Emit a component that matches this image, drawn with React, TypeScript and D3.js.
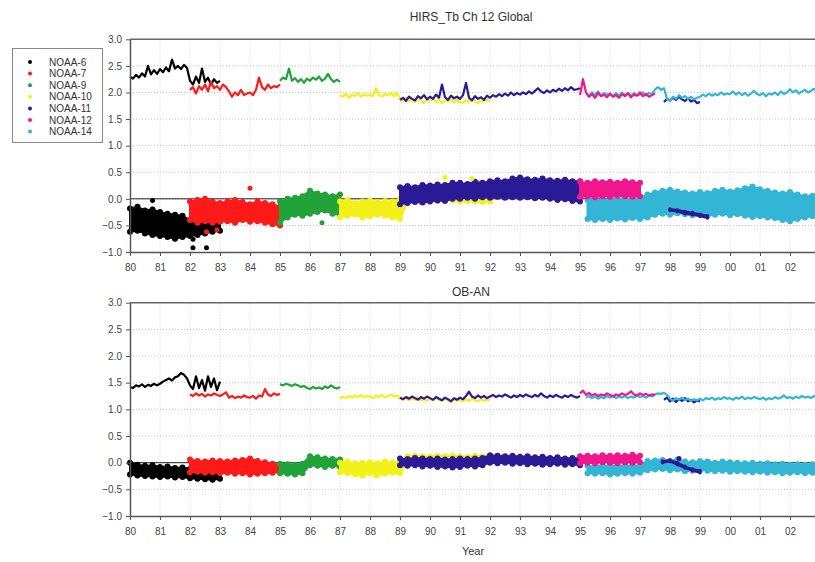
import React, { useEffect, useRef } from "react";
import * as d3 from "d3";

const satellites = ["NOAA-6", "NOAA-7", "NOAA-9", "NOAA-10", "NOAA-11", "NOAA-12", "NOAA-14"];
const satColors = ["#000000", "#ff1a1a", "#22a33a", "#f2f21a", "#2b1a96", "#f0168c", "#33b5d5"];

const yTicks = [-1.0, -0.5, 0.0, 0.5, 1.0, 1.5, 2.0, 2.5, 3.0];
const yearTicks = d3.range(1980, 2003);

// line values, one every 0.1 yr
const tbN6 = [2.30, 2.26, 2.33, 2.28, 2.36, 2.30, 2.50, 2.34, 2.42, 2.35, 2.44, 2.38, 2.47, 2.40, 2.62, 2.45, 2.50, 2.44, 2.52, 2.46, 2.22, 2.15, 2.30, 2.18, 2.45, 2.20, 2.28, 2.15, 2.25, 2.18, 2.22];
const tbN7 = [2.05, 2.10, 1.98, 2.12, 2.05, 2.15, 2.02, 2.20, 2.08, 2.12, 2.05, 2.15, 2.10, 2.02, 1.92, 2.00, 1.95, 2.05, 1.95, 1.98, 2.00, 1.95, 2.05, 2.28, 2.10, 2.05, 2.15, 2.08, 2.12, 2.10, 2.15];
const tbN9 = [2.22, 2.28, 2.25, 2.45, 2.22, 2.27, 2.20, 2.25, 2.18, 2.26, 2.22, 2.28, 2.24, 2.30, 2.22, 2.26, 2.35, 2.25, 2.20, 2.24, 2.20];
const tbN10 = [1.95, 1.92, 1.98, 1.90, 1.96, 1.93, 1.99, 1.92, 1.97, 1.94, 1.96, 1.93, 2.08, 1.95, 1.92, 1.98, 1.94, 1.99, 1.93, 2.00, 1.88, 1.84, 1.90, 1.83, 1.87, 1.82, 1.88, 1.85, 1.80, 1.87, 1.84, 1.88, 1.82, 1.86, 1.80, 1.85, 1.83, 1.88, 1.81, 1.86, 1.83, 1.80, 1.86, 1.82, 1.88, 1.84, 1.80, 1.85, 1.83, 1.86, 1.84];
const tbN11 = [1.86, 1.90, 1.84, 1.92, 1.88, 1.85, 1.93, 1.89, 1.95, 1.87, 1.92, 1.88, 1.96, 1.90, 2.15, 1.91, 1.86, 1.94, 1.89, 1.92, 1.88, 1.95, 2.18, 1.90, 1.85, 1.93, 1.88, 1.91, 1.86, 1.94, 1.90, 1.95, 1.92, 1.97, 1.93, 1.98, 1.94, 2.00, 1.95, 1.99, 1.96, 2.00, 1.97, 2.02, 1.98, 2.03, 2.08, 2.02, 1.99, 2.04, 2.00, 2.05, 2.02, 2.07, 2.03, 2.08, 2.04, 2.10, 2.05, 2.06, 2.08];
const tbN11Late = [1.82, 1.88, 1.85, 1.90, 1.86, 1.92, 1.87, 1.84, 1.89, 1.83, 1.86, 1.80, 1.82];
const tbN12 = [1.95, 2.25, 2.00, 1.92, 1.97, 1.90, 1.99, 1.93, 1.96, 1.91, 1.98, 1.92, 1.95, 1.90, 1.97, 1.93, 1.99, 1.91, 1.96, 1.94, 2.00, 1.93, 1.97, 1.92, 1.95, 1.98];
const tbN14 = [1.98, 1.93, 2.00, 1.95, 2.02, 1.94, 1.99, 1.96, 1.97, 1.93, 1.99, 1.94, 2.00, 1.95, 1.98, 1.93, 1.99, 1.95, 1.96, 2.00, 1.95, 1.99, 1.97, 2.06, 2.10, 2.05, 2.08, 1.88, 1.85, 1.92, 1.88, 1.95, 1.90, 1.93, 1.88, 1.92, 1.87, 1.90, 1.92, 1.96, 1.93, 1.98, 1.94, 1.97, 1.95, 2.00, 1.96, 1.98, 1.97, 2.02, 1.96, 2.00, 1.95, 1.99, 1.94, 1.98, 2.03, 1.97, 1.95, 1.99, 1.93, 1.98, 1.96, 2.00, 1.95, 2.02, 1.97, 2.00, 2.06, 2.00, 2.04, 1.98, 2.02, 2.05, 2.00, 2.03, 2.07, 2.02, 2.04];

const obN6 = [1.42, 1.40, 1.45, 1.43, 1.47, 1.42, 1.46, 1.44, 1.48, 1.45, 1.48, 1.52, 1.55, 1.58, 1.54, 1.60, 1.62, 1.68, 1.65, 1.58, 1.45, 1.38, 1.62, 1.40, 1.55, 1.35, 1.62, 1.42, 1.58, 1.36, 1.52];
const obN7 = [1.28, 1.25, 1.30, 1.26, 1.29, 1.24, 1.28, 1.26, 1.30, 1.27, 1.25, 1.28, 1.32, 1.22, 1.25, 1.21, 1.24, 1.22, 1.26, 1.23, 1.22, 1.25, 1.20, 1.26, 1.24, 1.38, 1.28, 1.25, 1.30, 1.27, 1.29];
const obN9 = [1.47, 1.45, 1.48, 1.46, 1.44, 1.47, 1.45, 1.42, 1.44, 1.40, 1.38, 1.42, 1.39, 1.41, 1.38, 1.43, 1.40, 1.45, 1.41, 1.39, 1.42];
const obN10 = [1.20, 1.24, 1.21, 1.25, 1.22, 1.26, 1.23, 1.27, 1.22, 1.25, 1.24, 1.21, 1.26, 1.23, 1.27, 1.22, 1.25, 1.28, 1.24, 1.26, 1.20, 1.18, 1.21, 1.17, 1.20, 1.18, 1.22, 1.17, 1.19, 1.16, 1.20, 1.17, 1.21, 1.18, 1.16, 1.20, 1.17, 1.14, 1.19, 1.16, 1.18, 1.15, 1.19, 1.16, 1.20, 1.17, 1.15, 1.19, 1.16, 1.18, 1.17];
const obN11 = [1.22, 1.19, 1.23, 1.20, 1.24, 1.21, 1.18, 1.23, 1.20, 1.24, 1.21, 1.18, 1.23, 1.20, 1.17, 1.22, 1.19, 1.15, 1.21, 1.18, 1.22, 1.19, 1.25, 1.33, 1.24, 1.21, 1.26, 1.22, 1.25, 1.21, 1.24, 1.27, 1.23, 1.26, 1.24, 1.28, 1.25, 1.22, 1.26, 1.23, 1.27, 1.24, 1.28, 1.25, 1.23, 1.27, 1.24, 1.30, 1.25, 1.22, 1.26, 1.23, 1.27, 1.24, 1.22, 1.26, 1.23, 1.27, 1.24, 1.22, 1.25];
const obN11Late = [1.18, 1.22, 1.15, 1.20, 1.14, 1.19, 1.16, 1.21, 1.15, 1.18, 1.13, 1.17, 1.15];
const obN12 = [1.30, 1.35, 1.27, 1.31, 1.26, 1.29, 1.25, 1.28, 1.26, 1.30, 1.27, 1.24, 1.28, 1.26, 1.30, 1.27, 1.29, 1.34, 1.28, 1.26, 1.30, 1.27, 1.29, 1.26, 1.28, 1.27];
const obN14 = [1.22, 1.25, 1.21, 1.24, 1.20, 1.23, 1.21, 1.25, 1.22, 1.26, 1.21, 1.24, 1.22, 1.25, 1.21, 1.24, 1.22, 1.26, 1.23, 1.25, 1.22, 1.26, 1.24, 1.28, 1.30, 1.29, 1.31, 1.27, 1.20, 1.16, 1.21, 1.18, 1.22, 1.17, 1.20, 1.16, 1.19, 1.17, 1.20, 1.17, 1.21, 1.19, 1.22, 1.18, 1.21, 1.19, 1.23, 1.20, 1.21, 1.18, 1.22, 1.20, 1.24, 1.19, 1.22, 1.20, 1.23, 1.21, 1.19, 1.22, 1.18, 1.21, 1.19, 1.23, 1.20, 1.22, 1.26, 1.21, 1.23, 1.20, 1.24, 1.21, 1.25, 1.22, 1.24, 1.21, 1.25, 1.23, 1.24];

// scatter envelopes (low / high), one every 0.25 yr
const tbBandN6Lo = [-0.62, -0.60, -0.65, -0.68, -0.70, -0.72, -0.75, -0.72, -0.70, -0.68, -0.65, -0.62, -0.60];
const tbBandN6Hi = [-0.18, -0.15, -0.22, -0.20, -0.25, -0.28, -0.30, -0.32, -0.40, -0.38, -0.42, -0.40, -0.42];
const tbBandN7Lo = [-0.40, -0.45, -0.42, -0.45, -0.43, -0.42, -0.45, -0.40, -0.43, -0.42, -0.45, -0.48, -0.50];
const tbBandN7Hi = [-0.05, -0.02, 0.00, -0.05, -0.08, -0.05, -0.02, -0.06, -0.10, -0.05, -0.08, -0.10, -0.15];
const tbBandN9Lo = [-0.45, -0.35, -0.30, -0.32, -0.28, -0.25, -0.22, -0.28, -0.30];
const tbBandN9Hi = [-0.05, 0.00, 0.02, 0.05, 0.15, 0.10, 0.08, 0.05, 0.08];
const tbBandN10Lo = [-0.35, -0.32, -0.30, -0.35, -0.33, -0.30, -0.32, -0.35, -0.38, -0.05, -0.04, -0.05, -0.03, -0.04, -0.02, -0.03, -0.05, -0.04, -0.05, -0.06, -0.05];
const tbBandN10Hi = [-0.05, -0.02, -0.08, -0.05, -0.03, -0.06, -0.04, -0.05, 0.00, 0.15, 0.16, 0.15, 0.17, 0.16, 0.18, 0.17, 0.18, 0.17, 0.19, 0.18, 0.18];
const tbBandN11Lo = [-0.10, -0.08, -0.06, -0.07, -0.05, -0.03, -0.04, 0.00, 0.00, 0.02, 0.00, 0.03, 0.02, 0.04, 0.02, 0.03, 0.02, 0.03, 0.01, 0.02, 0.00, -0.02, -0.01, -0.04, -0.05];
const tbBandN11Hi = [0.22, 0.24, 0.22, 0.26, 0.25, 0.27, 0.26, 0.30, 0.30, 0.28, 0.32, 0.30, 0.33, 0.35, 0.33, 0.38, 0.40, 0.37, 0.36, 0.38, 0.35, 0.34, 0.36, 0.33, 0.33];
const tbBandN11LateLo = [-0.22, -0.24, -0.28, -0.30, -0.33, -0.36];
const tbBandN11LateHi = [-0.19, -0.21, -0.24, -0.26, -0.29, -0.32];
const tbBandN12Lo = [0.04, 0.05, 0.03, 0.05, 0.04, 0.06, 0.05, 0.04, 0.05];
const tbBandN12Hi = [0.32, 0.30, 0.33, 0.31, 0.32, 0.30, 0.33, 0.31, 0.30];
const tbBandN14Lo = [-0.38, -0.40, -0.38, -0.40, -0.37, -0.39, -0.36, -0.38, -0.35, -0.30, -0.28, -0.30, -0.27, -0.29, -0.31, -0.30, -0.32, -0.30, -0.28, -0.31, -0.29, -0.32, -0.34, -0.33, -0.35, -0.36, -0.40, -0.42, -0.38, -0.35, -0.33, -0.34];
const tbBandN14Hi = [-0.02, 0.00, -0.03, 0.00, -0.02, 0.01, -0.01, 0.02, 0.08, 0.12, 0.15, 0.17, 0.14, 0.12, 0.10, 0.13, 0.11, 0.15, 0.17, 0.14, 0.16, 0.20, 0.23, 0.18, 0.15, 0.12, 0.10, 0.13, 0.08, 0.05, 0.06, 0.04];

const obBandN6Lo = [-0.22, -0.24, -0.25, -0.26, -0.27, -0.26, -0.28, -0.27, -0.29, -0.30, -0.31, -0.32, -0.30];
const obBandN6Hi = [0.00, -0.04, -0.06, -0.05, -0.08, -0.07, -0.10, -0.09, -0.12, -0.14, -0.16, -0.17, -0.18];
const obBandN7Lo = [-0.18, -0.17, -0.19, -0.18, -0.20, -0.19, -0.21, -0.20, -0.22, -0.21, -0.20, -0.19, -0.18];
const obBandN7Hi = [0.06, 0.03, 0.02, 0.04, 0.03, 0.02, 0.04, 0.05, 0.08, 0.03, 0.01, -0.02, -0.04];
const obBandN9Lo = [-0.20, -0.21, -0.22, -0.20, -0.05, -0.06, -0.08, -0.06, -0.08];
const obBandN9Hi = [-0.02, -0.03, -0.04, -0.02, 0.12, 0.10, 0.08, 0.07, 0.06];
const obBandN10Lo = [-0.18, -0.20, -0.22, -0.24, -0.20, -0.22, -0.21, -0.19, -0.20, 0.02, 0.01, 0.02, 0.03, 0.02, 0.01, 0.02, 0.03, 0.02, 0.01, 0.02, 0.02];
const obBandN10Hi = [0.00, 0.02, -0.01, 0.00, 0.01, -0.01, 0.02, 0.00, 0.02, 0.12, 0.13, 0.12, 0.11, 0.13, 0.12, 0.13, 0.12, 0.11, 0.13, 0.12, 0.12];
const obBandN11Lo = [-0.05, -0.06, -0.05, -0.07, -0.06, -0.08, -0.07, -0.09, -0.08, -0.06, -0.07, -0.05, 0.00, -0.01, 0.00, -0.02, -0.01, -0.03, -0.02, -0.04, -0.03, -0.02, -0.04, -0.03, -0.05];
const obBandN11Hi = [0.08, 0.07, 0.09, 0.08, 0.07, 0.08, 0.06, 0.07, 0.08, 0.07, 0.08, 0.09, 0.14, 0.13, 0.12, 0.13, 0.11, 0.12, 0.10, 0.11, 0.09, 0.10, 0.08, 0.09, 0.08];
const obBandN11LateLo = [0.00, 0.02, -0.04, -0.10, -0.15, -0.19];
const obBandN11LateHi = [0.03, 0.05, 0.00, -0.07, -0.12, -0.15];
const obBandN12Lo = [-0.01, 0.00, -0.01, 0.01, 0.00, -0.01, 0.01, 0.00, 0.01];
const obBandN12Hi = [0.12, 0.13, 0.12, 0.14, 0.13, 0.14, 0.13, 0.15, 0.13];
const obBandN14Lo = [-0.20, -0.21, -0.20, -0.22, -0.21, -0.20, -0.21, -0.19, -0.14, -0.13, -0.12, -0.14, -0.13, -0.16, -0.15, -0.14, -0.15, -0.16, -0.15, -0.17, -0.16, -0.17, -0.18, -0.17, -0.19, -0.18, -0.20, -0.19, -0.18, -0.20, -0.19, -0.20];
const obBandN14Hi = [-0.06, -0.07, -0.05, -0.06, -0.05, -0.06, -0.05, -0.06, 0.03, 0.04, 0.05, 0.03, 0.06, 0.02, 0.01, 0.03, 0.02, 0.00, 0.02, 0.01, 0.00, -0.01, 0.00, -0.02, -0.01, -0.03, -0.02, -0.04, -0.03, -0.04, -0.03, -0.05];

// stray points [satellite index, year, value]
const tbOutliers: [number, number, number][] = [
  [0, 1980.75, -0.03], [0, 1982.1, -0.92], [0, 1982.55, -0.92], [0, 1982.1, -0.76],
  [1, 1984.0, 0.2], [1, 1982.55, -0.62], [1, 1982.9, -0.58],
  [2, 1986.4, -0.45], [3, 1990.5, 0.4], [3, 1991.4, 0.38],
];
const obOutliers: [number, number, number][] = [[3, 1988.2, -0.25], [4, 1998.3, 0.08]];

type Line = { sat: number; start: number; values: number[] };
type Band = { sat: number; start: number; lo: number[]; hi: number[] };

const topLines: Line[] = [
  { sat: 0, start: 1980, values: tbN6 }, { sat: 1, start: 1982, values: tbN7 },
  { sat: 2, start: 1985, values: tbN9 }, { sat: 3, start: 1987, values: tbN10 },
  { sat: 4, start: 1989, values: tbN11 }, { sat: 4, start: 1997.8, values: tbN11Late },
  { sat: 6, start: 1995.2, values: tbN14 }, { sat: 5, start: 1995, values: tbN12 },
];
const bottomLines: Line[] = [
  { sat: 0, start: 1980, values: obN6 }, { sat: 1, start: 1982, values: obN7 },
  { sat: 2, start: 1985, values: obN9 }, { sat: 3, start: 1987, values: obN10 },
  { sat: 4, start: 1989, values: obN11 }, { sat: 4, start: 1997.8, values: obN11Late },
  { sat: 6, start: 1995.2, values: obN14 }, { sat: 5, start: 1995, values: obN12 },
];
const topBands: Band[] = [
  { sat: 0, start: 1980, lo: tbBandN6Lo, hi: tbBandN6Hi }, { sat: 1, start: 1982, lo: tbBandN7Lo, hi: tbBandN7Hi },
  { sat: 2, start: 1985, lo: tbBandN9Lo, hi: tbBandN9Hi }, { sat: 3, start: 1987, lo: tbBandN10Lo, hi: tbBandN10Hi },
  { sat: 4, start: 1989, lo: tbBandN11Lo, hi: tbBandN11Hi }, { sat: 6, start: 1995.25, lo: tbBandN14Lo, hi: tbBandN14Hi },
  { sat: 5, start: 1995, lo: tbBandN12Lo, hi: tbBandN12Hi }, { sat: 4, start: 1998, lo: tbBandN11LateLo, hi: tbBandN11LateHi },
];
const bottomBands: Band[] = [
  { sat: 0, start: 1980, lo: obBandN6Lo, hi: obBandN6Hi }, { sat: 1, start: 1982, lo: obBandN7Lo, hi: obBandN7Hi },
  { sat: 2, start: 1985, lo: obBandN9Lo, hi: obBandN9Hi }, { sat: 3, start: 1987, lo: obBandN10Lo, hi: obBandN10Hi },
  { sat: 4, start: 1989, lo: obBandN11Lo, hi: obBandN11Hi }, { sat: 6, start: 1995.25, lo: obBandN14Lo, hi: obBandN14Hi },
  { sat: 5, start: 1995, lo: obBandN12Lo, hi: obBandN12Hi }, { sat: 4, start: 1997.75, lo: obBandN11LateLo, hi: obBandN11LateHi },
];

const FONT = "Liberation Sans, Arial, sans-serif";

export default function App() {
  const ref = useRef<SVGSVGElement>(null);

  useEffect(() => {
    const svg = d3.select(ref.current);
    svg.selectAll("*").remove();

    const x = d3.scaleLinear().domain([1980, 2003]).range([130, 820]);

    const drawPanel = (top: number, bottom: number, title: string, titleY: number,
      lines: Line[], bands: Band[], outliers: [number, number, number][]) => {
      const y = d3.scaleLinear().domain([-1, 3]).range([bottom, top]);
      const g = svg.append("g");

      // grid
      g.selectAll(".vg").data(yearTicks.slice(1)).join("line")
        .attr("x1", d => x(d)).attr("x2", d => x(d)).attr("y1", top).attr("y2", bottom)
        .attr("stroke", "#d4d4d4").attr("stroke-dasharray", "1,2");
      g.selectAll(".hg").data(yTicks.slice(1, -1)).join("line")
        .attr("x1", 130).attr("x2", 820).attr("y1", d => y(d)).attr("y2", d => y(d))
        .attr("stroke", "#c4c4c4").attr("stroke-dasharray", "1,2");
      g.append("line").attr("x1", 130).attr("x2", 820).attr("y1", y(0)).attr("y2", y(0))
        .attr("stroke", "#222").attr("stroke-width", 1);

      // scatter envelopes, dotted edges
      bands.forEach(b => {
        const pts = b.lo.map((lo, i) => ({ t: b.start + i * 0.25, lo, hi: b.hi[i] }));
        const color = satColors[b.sat];
        const thin = b.start > 1997;
        g.append("path").datum(pts)
          .attr("d", d3.area<any>().x(d => x(d.t)).y0(d => y(d.lo)).y1(d => y(d.hi)))
          .attr("fill", color).attr("stroke", color).attr("stroke-width", 2).attr("stroke-linejoin", "round");
        const edge = pts.flatMap(p => [[p.t, p.lo], [p.t, p.hi]]);
        g.selectAll(null).data(edge).join("circle")
          .attr("cx", d => x(d[0])).attr("cy", d => y(d[1])).attr("r", thin ? 1.8 : 3).attr("fill", color);
      });
      g.selectAll(null).data(outliers).join("circle")
        .attr("cx", d => x(d[1])).attr("cy", d => y(d[2])).attr("r", 2.5).attr("fill", d => satColors[d[0]]);

      // Tb lines
      lines.forEach(l => {
        g.append("path")
          .datum(l.values.map((v, i) => [l.start + i * 0.1, v]))
          .attr("d", d3.line<number[]>().x(d => x(d[0])).y(d => y(d[1])))
          .attr("fill", "none").attr("stroke", satColors[l.sat]).attr("stroke-width", 2.2)
          .attr("stroke-linejoin", "round");
      });

      // frame + axes
      g.append("line").attr("x1", 130).attr("x2", 820).attr("y1", top).attr("y2", top)
        .attr("stroke", "#666").attr("stroke-width", 1.5);
      const ya = g.append("g").attr("transform", "translate(130,0)")
        .call(d3.axisLeft(y).tickValues(yTicks).tickFormat(d3.format(".1f")).tickSize(4).tickSizeOuter(0).tickPadding(4));
      const xa = g.append("g").attr("transform", `translate(0,${bottom})`)
        .call(d3.axisBottom(x).tickValues(yearTicks).tickFormat(d => String(+d % 100).padStart(2, "0")).tickSize(4).tickSizeOuter(0).tickPadding(8));
      [ya, xa].forEach(a => {
        a.select(".domain").attr("stroke", "#555").attr("stroke-width", 1.5);
        a.selectAll(".tick line").attr("stroke", "#555");
        a.selectAll("text").attr("font-family", FONT).attr("font-size", 10).attr("fill", "#444");
      });

      g.append("text").attr("x", 471).attr("y", titleY).attr("text-anchor", "middle")
        .attr("font-family", FONT).attr("font-size", 12).attr("fill", "#333").text(title);
    };

    drawPanel(39.3, 252, "HIRS_Tb Ch 12 Global", 21, topLines, topBands, tbOutliers);
    drawPanel(302.7, 516, "OB-AN", 296, bottomLines, bottomBands, obOutliers);

    svg.append("text").attr("x", 473).attr("y", 555).attr("text-anchor", "middle")
      .attr("font-family", FONT).attr("font-size", 11).attr("fill", "#333").text("Year");

    // legend
    const lg = svg.append("g");
    lg.append("rect").attr("x", 12.5).attr("y", 48.5).attr("width", 90).attr("height", 94)
      .attr("fill", "#fff").attr("stroke", "#888");
    satellites.forEach((s, i) => {
      const yy = 62 + i * 11.6;
      lg.append("circle").attr("cx", 30).attr("cy", yy).attr("r", 2).attr("fill", satColors[i]);
      lg.append("text").attr("x", 49).attr("y", yy + 3.5).attr("font-family", FONT)
        .attr("font-size", 10).attr("fill", "#333").text(s);
    });
  }, []);

  return (
    <svg ref={ref} width={815} height={562}
      style={{ position: "absolute", left: 0, top: 0, background: "#fff" }} />
  );
}
